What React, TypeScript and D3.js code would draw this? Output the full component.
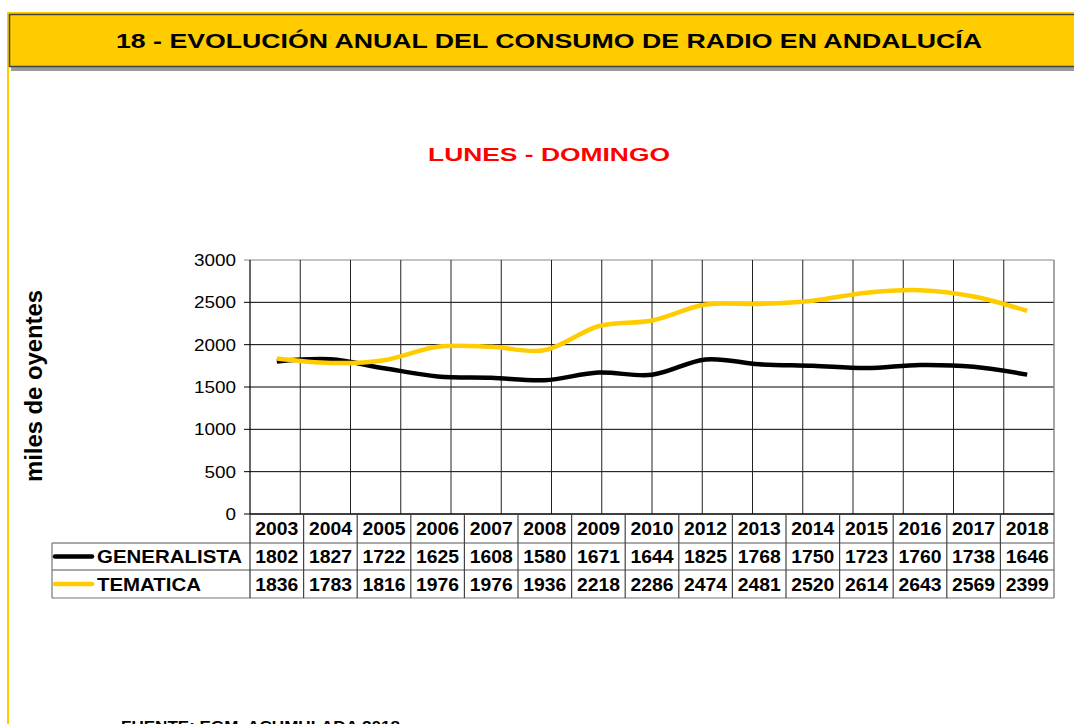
import React from "react";
import * as d3 from "d3";

const years = ["2003","2004","2005","2006","2007","2008","2009","2010","2012","2013","2014","2015","2016","2017","2018"];
const generalista = [1802,1827,1722,1625,1608,1580,1671,1644,1825,1768,1750,1723,1760,1738,1646];
const tematica = [1836,1783,1816,1976,1976,1936,2218,2286,2474,2481,2520,2614,2643,2569,2399];
const yTicks = [0,500,1000,1500,2000,2500,3000];
const seriesNames = ["GENERALISTA","TEMATICA"];
const seriesColors = ["#000000","#FFCC00"];

const W = 1074, H = 724;
const left = 250, right = 1054, top = 260, bottom = 514;
const rowH = [29, 27, 28];
const legendLeft = 52;
const FONT = "Liberation Sans, Arial, sans-serif";

export default function App() {
  const x = d3.scaleBand<string>().domain(years).range([left, right]);
  const y = d3.scaleLinear().domain([0, 3000]).range([bottom, top]);
  const gridX = d3.scaleLinear().domain([0, 16]).range([left, right]);
  const line = d3.line<number>()
    .x((_, i) => (x(years[i]) as number) + x.bandwidth() / 2)
    .y((d) => y(d))
    .curve(d3.curveCatmullRom.alpha(0));
  const series = [generalista, tematica];
  const r0 = bottom, r1 = r0 + rowH[0], r2 = r1 + rowH[1], r3 = r2 + rowH[2];
  const rows = [[r1, r2], [r2, r3]];
  const legendLen = [145, 104];

  return (
    <svg width={W} height={H} style={{ position: "absolute", left: 0, top: 0, background: "#fff" }} fontFamily={FONT}>
      {/* page left yellow rule */}
      <rect x={7} y={12} width={2} height={H} fill="#FFCC00" />
      {/* header */}
      <rect x={11} y={67} width={W} height={4} fill="#9a9a9a" />
      <rect x={7} y={12} width={W} height={2} fill="#FFCC00" />
      <rect x={9.5} y={14.5} width={W} height={52} fill="#FFCC00" stroke="#444" strokeWidth={1.5} />
      <text x={549} y={48} textAnchor="middle" fontSize={21} fontWeight="bold" fill="#000" textLength={866} lengthAdjust="spacingAndGlyphs">
        18 - EVOLUCIÓN ANUAL DEL CONSUMO DE RADIO EN ANDALUCÍA
      </text>
      <text x={549} y={161} textAnchor="middle" fontSize={19} fontWeight="bold" fill="#FF0000" textLength={242} lengthAdjust="spacingAndGlyphs">
        LUNES - DOMINGO
      </text>
      {/* y axis title */}
      <text transform={`translate(42,386) rotate(-90)`} textAnchor="middle" fontSize={23} fontWeight="bold" fill="#000" textLength={192} lengthAdjust="spacingAndGlyphs">
        miles de oyentes
      </text>
      {/* horizontal gridlines */}
      {yTicks.map((t) => (
        <g key={t}>
          <line x1={244} x2={right} y1={y(t)} y2={y(t)} stroke={t === 3000 ? "#888" : "#000"} strokeWidth={1} />
          <text x={236} y={y(t) + 6} textAnchor="end" fontSize={17} fill="#000" textLength={String(t).length * 10.5} lengthAdjust="spacingAndGlyphs">{t}</text>
        </g>
      ))}
      {/* vertical gridlines */}
      {d3.range(1, 16).map((k) => (
        <line key={k} x1={gridX(k)} x2={gridX(k)} y1={top} y2={bottom} stroke="#222" strokeWidth={1} />
      ))}
      <line x1={left} x2={left} y1={top} y2={bottom} stroke="#000" strokeWidth={1.2} />
      <line x1={right} x2={right} y1={top} y2={r3} stroke="#888" strokeWidth={1.5} />
      {/* lines */}
      {series.map((s, i) => (
        <path key={i} d={line(s) || ""} fill="none" stroke={seriesColors[i]} strokeWidth={4.5} strokeLinecap="butt" />
      ))}
      {/* data table */}
      <line x1={left} x2={right} y1={r0} y2={r0} stroke="#000" strokeWidth={1.2} />
      <line x1={legendLeft} x2={right} y1={r1} y2={r1} stroke="#555" strokeWidth={1.2} />
      <line x1={legendLeft} x2={right} y1={r2} y2={r2} stroke="#555" strokeWidth={1.2} />
      <line x1={legendLeft} x2={right} y1={r3} y2={r3} stroke="#777" strokeWidth={1.2} />
      <line x1={legendLeft} x2={legendLeft} y1={r1} y2={r3} stroke="#777" strokeWidth={1.2} />
      <line x1={left} x2={left} y1={r0} y2={r3} stroke="#333" strokeWidth={1.2} />
      {years.map((yr, i) => {
        const cx = (x(yr) as number) + x.bandwidth() / 2;
        const tp = { textAnchor: "middle" as const, fontSize: 18, fontWeight: "bold", textLength: 43, lengthAdjust: "spacingAndGlyphs" };
        return (
          <g key={yr}>
            {i > 0 && <line x1={x(yr) as number} x2={x(yr) as number} y1={r0} y2={r3} stroke="#444" strokeWidth={1.2} />}
            <text x={cx} y={r0 + 21} {...tp}>{yr}</text>
            <text x={cx} y={r1 + 20} {...tp}>{generalista[i]}</text>
            <text x={cx} y={r2 + 21} {...tp}>{tematica[i]}</text>
          </g>
        );
      })}
      {seriesNames.map((n, i) => {
        const [a, b] = rows[i];
        const cy = (a + b) / 2;
        return (
          <g key={n}>
            <line x1={55} x2={92} y1={cy} y2={cy} stroke={seriesColors[i]} strokeWidth={4.5} strokeLinecap="round" />
            <text x={97} y={cy + 6.5} fontSize={18} fontWeight="bold" textLength={legendLen[i]} lengthAdjust="spacingAndGlyphs">{n}</text>
          </g>
        );
      })}
      {/* footer */}
      <text x={121} y={731} fontSize={15} fontWeight="bold" fill="#000" textLength={279} lengthAdjust="spacingAndGlyphs">FUENTE: EGM. ACUMULADA 2018</text>
    </svg>
  );
}
